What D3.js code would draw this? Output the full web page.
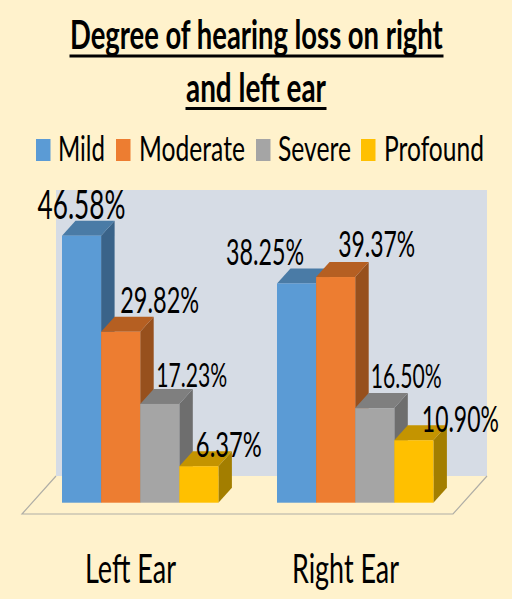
<!DOCTYPE html>
<html><head><meta charset="utf-8">
<style>html,body{margin:0;padding:0;background:#FFF2CC}svg{display:block}text{font-family:Lato,"Open Sans",sans-serif;fill:#000}</style>
<script src="https://cdn.jsdelivr.net/npm/d3@7"></script></head><body>
<script>
const categories = ["Left Ear", "Right Ear"];
const seriesNames = ["Mild", "Moderate", "Severe", "Profound"];
const leftEar = [46.58, 29.82, 17.23, 6.37];
const rightEar = [38.25, 39.37, 16.50, 10.90];
const faceColors = ["#5B9BD5", "#ED7D31", "#A5A5A5", "#FFC000"];
const topColors = ["#4A7BA6", "#B55F22", "#7F7F7F", "#C49400"];
const sideColors = ["#3A6389", "#97501D", "#6E6E6E", "#A37E00"];

// layout of the value labels: [centre offset from bar centre, baseline above bar top, text width, font size]
const leftLabelLayout = [[0,16.7,88,41.5],[39,18.8,79,37],[32,17,71,33.5],[30,9,66,35]];
const rightLabelLayout = [[-31.5,18.5,78,37],[41,20,77,37],[31.5,20,71,33.5],[46.5,8,77,37]];

const W = 512, H = 599, dx = 13.5, dy = 15, baseY = 502.7;
const svg = d3.select("body").append("svg").attr("width", W).attr("height", H);
svg.append("rect").attr("width", W).attr("height", H).attr("fill", "#FFF2CC");

const y = d3.scaleLinear().domain([0, 46.58]).range([baseY, 235.7]);
const groupX = d3.scaleOrdinal().domain(categories).range([62, 277]);
const barW = 39.1;
const barX = d3.scaleBand().domain(seriesNames).range([0, barW * 4]);

// wall + floor
svg.append("rect").attr("x", 56).attr("y", 190).attr("width", 431).attr("height", 286).attr("fill", "#D6DCE5");
svg.append("path").attr("d", "M56,476L487,476L453,514L22,514Z").attr("fill", "#FFF2CC");
svg.append("path").attr("d", "M56,476L22,514L453,514L487,476").attr("fill", "none").attr("stroke", "#B0AEA6").attr("stroke-width", 1.2);

const line = d3.line();
const rows = categories.map((c, i) => ({c, vals: i ? rightEar : leftEar, layout: i ? rightLabelLayout : leftLabelLayout}));
const labels = [];
rows.forEach(r => {
  const g = svg.append("g").attr("class", "group");
  r.vals.forEach((v, k) => {
    const x0 = groupX(r.c) + barX(seriesNames[k]), x1 = x0 + barX.bandwidth(), yt = y(v), yb = y(0);
    g.append("path").attr("fill", sideColors[k]).attr("d",
      line([[x1,yt],[x1+dx,yt-dy],[x1+dx,yb-dy],[x1,yb]]) + "Z");
    g.append("path").attr("fill", topColors[k]).attr("d",
      line([[x0,yt],[x0+dx,yt-dy],[x1+dx,yt-dy],[x1,yt]]) + "Z");
    g.append("rect").attr("x", x0).attr("y", yt).attr("width", x1 - x0).attr("height", yb - yt).attr("fill", faceColors[k]);
    const L = r.layout[k];
    labels.push({t: v.toFixed(2) + "%", cx: (x0 + x1) / 2 + L[0], by: yt - L[1], w: L[2], fs: L[3]});
  });
});
// squeeze each text horizontally to the measured width of the reference
function fit(sel, x, by, w, fs) {
  sel.attr("font-size", fs).attr("x", 0).attr("y", 0);
  const natural = sel.node().getComputedTextLength();
  return sel.attr("transform", `translate(${x},${by}) scale(${w / natural},1)`);
}
labels.forEach(l => fit(svg.append("text").text(l.t), l.cx - l.w / 2, l.by, l.w, l.fs));

// title
const titleLines = ["Degree of hearing loss on right", "and left ear"];
const titleX = [70, 186], titleW = [373, 140], titleBase = [49, 101.5], titleUnder = [56, 108.5];
titleLines.forEach((t, i) => {
  fit(svg.append("text").text(t).attr("font-weight", 700), titleX[i], titleBase[i], titleW[i], 40);
  svg.append("rect").attr("x", titleX[i]-0.5).attr("y", titleUnder[i]-1.5).attr("width", titleW[i]+1).attr("height", 3).attr("fill", "#000");
});

// legend
const swatchX = [36, 116, 256, 361], legTextX = [58, 139, 278, 384], legTextW = [47, 106, 73, 100];
seriesNames.forEach((s, i) => {
  svg.append("rect").attr("x", swatchX[i]).attr("y", 139).attr("width", 14.5).attr("height", 22).attr("fill", faceColors[i]);
  fit(svg.append("text").text(s), legTextX[i], 160.5, legTextW[i], 35);
});

// category labels
const catX = [85, 292], catW = [91, 107];
categories.forEach((c, i) => fit(svg.append("text").text(c), catX[i], 583, catW[i], 40));
</script></body></html>
